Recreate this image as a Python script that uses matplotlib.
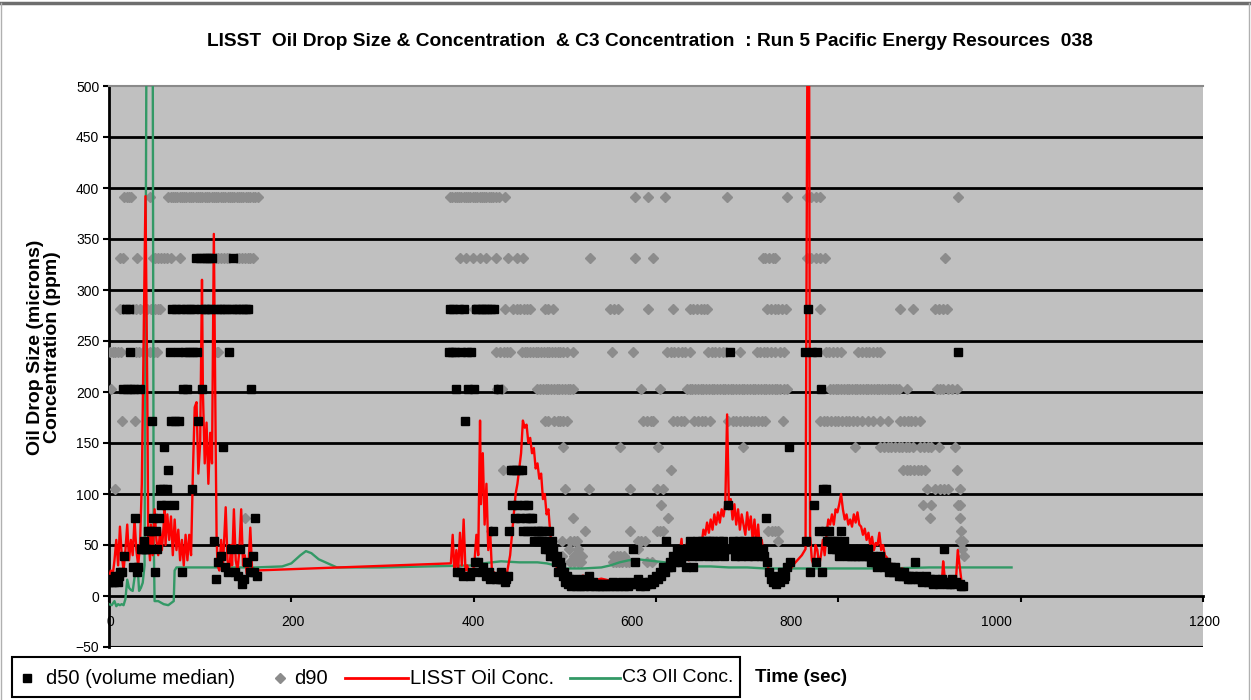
import numpy as np
import matplotlib.pyplot as plt
from matplotlib.patches import Rectangle
from matplotlib.lines import Line2D

plt.rcParams['font.family'] = ['Liberation Sans', 'DejaVu Sans']

# ==========================================================
# data (time in sec, values in microns / ppm)
# ==========================================================

# d50 (volume median) - (time, size)
d50_early = [(0.5, 14), (2, 17), (3.5, 14), (5, 14), (6.5, 20), (8, 17), (9.5, 14), (11, 20), (12.5, 24),
             (14, 24), (15.5, 203), (17, 39), (18.5, 281), (20, 203), (21.5, 281), (23, 239), (24.5, 203),
             (26, 28), (27.5, 203), (29, 76), (30.5, 24), (32, 28), (33.5, 203), (35, 46), (36.5, 46),
             (38, 54), (39.5, 46), (41, 46), (42.5, 64), (44, 46), (45.5, 64), (47, 172), (48.5, 76),
             (50, 24), (51.5, 64), (53, 46), (54.5, 76), (56, 105), (57.5, 89), (59, 105), (60.5, 146),
             (62, 89), (63.5, 105), (65, 124), (66.5, 239), (68, 172), (69.5, 281), (71, 89), (72.5, 172),
             (74, 281), (75.5, 239), (77, 172), (78.5, 281), (80, 24), (81.5, 203), (83, 239), (84.5, 281),
             (86, 203), (87.5, 239), (89, 281), (90.5, 105), (92, 239), (93.5, 281), (95, 331), (96.5, 239),
             (98, 172), (99.5, 331), (101, 281), (102.5, 203), (104, 331), (105.5, 281), (107, 331),
             (108.5, 281), (110, 331), (111.5, 281), (113, 331), (115, 54), (117, 17), (118.5, 281),
             (120, 33), (121.5, 281), (123, 39), (124.5, 146), (126, 281), (127.5, 28), (129, 281),
             (130.5, 24), (132, 239), (133.5, 46), (135, 281), (136.5, 331), (138, 24), (139.5, 281),
             (141, 20), (142.5, 281), (144, 46), (145.5, 12), (147, 281), (148.5, 17), (150, 281),
             (151.5, 33), (153, 281), (154.5, 24), (156, 203), (157.5, 39), (159, 24), (160.5, 76), (162, 20)]

d50_mid = [(373, 239), (374.5, 281), (376, 239), (377.5, 281), (379, 239), (380.5, 203), (382, 24),
           (383.5, 281), (385, 24), (386.5, 239), (388, 20), (389.5, 281), (391, 172), (392.5, 239),
           (394, 203), (395.5, 20), (397, 239), (398.5, 24), (400, 203), (401.5, 33), (403, 281),
           (404.5, 33), (406, 281), (407.5, 24), (409, 281), (410.5, 28), (412, 281), (413.5, 20),
           (415, 281), (416.5, 24), (418, 17), (419.5, 281), (421, 64), (422.5, 281), (424, 17), (425.5, 20),
           (427, 203), (428.5, 17), (430, 24), (431.5, 17), (433, 20), (434.5, 14), (436, 17), (437.5, 20),
           (439, 64), (440.5, 124), (442, 89), (443.5, 124), (445, 76), (446.5, 124), (448, 89),
           (449.5, 124), (451, 76), (452.5, 124), (454, 64), (455.5, 89), (457, 76), (458.5, 64), (460, 89),
           (461.5, 76), (463, 64), (464.5, 76), (466, 54), (467.5, 64), (469, 54), (470.5, 64), (472, 54),
           (473.5, 64), (475, 54), (476.5, 64), (478, 46), (479.5, 54), (481, 46), (482.5, 64), (484, 39),
           (485.5, 54), (487, 46), (488.5, 39), (490, 33), (491.5, 39), (493, 24), (494.5, 33), (496, 28),
           (497.5, 20), (499, 24)]

d50_late = [(500.5, 14), (502, 20), (503.5, 12), (505, 17), (506.5, 10), (508, 14), (509.5, 12), (511, 17),
            (512.5, 10), (514, 12), (515.5, 14), (517, 10), (518.5, 12), (520, 17), (521.5, 10), (523, 14),
            (524.5, 12), (526, 20), (527.5, 10), (529, 12), (531, 14), (533, 10), (535, 12), (537, 10),
            (539, 12), (541, 10), (543, 12), (545, 10), (547, 12), (549, 10), (551, 12), (553, 14), (555, 10),
            (557, 12), (559, 10), (561, 12), (563, 14), (565, 10), (567, 12), (569, 10), (571, 14), (573, 12),
            (575, 46), (576.5, 33), (578, 12), (580, 17), (582, 10), (584, 12), (586, 14), (588, 10),
            (590, 12), (592, 14), (594, 12), (596, 17), (598, 14), (600, 20), (602, 17), (604, 24), (606, 20),
            (608, 28), (610, 24), (611.5, 54), (613, 28), (615, 33), (617, 28), (619, 39), (621, 33),
            (623, 46), (625, 39), (627, 33), (629, 46), (631, 39), (633, 28), (635, 46), (637, 54), (639, 39),
            (641, 28), (643, 46), (645, 54), (647, 39), (649, 46), (651, 54), (653, 46), (655, 54), (657, 39),
            (659, 54), (661, 46), (663, 54), (665, 39), (667, 46), (669, 54), (671, 46), (673, 54), (675, 39),
            (677, 46), (679, 89), (681, 239), (683, 46), (685, 54), (687, 39), (689, 46), (691, 54),
            (693, 39), (695, 46), (697, 54), (699, 46), (701, 39), (703, 46), (705, 54), (707, 39), (709, 46),
            (711, 54), (713, 46), (715, 39), (717, 46), (719, 39), (720.5, 76), (722, 33), (724, 24),
            (726, 17), (728, 14), (730, 20), (732, 12), (734, 17), (736, 14), (738, 24), (740, 17), (742, 20),
            (744, 28), (745.5, 146), (747, 33), (763, 239), (765, 54), (767, 281), (769, 24), (771, 239),
            (773, 89), (775, 33), (777, 239), (779, 64), (780.5, 203), (782, 24), (783.5, 105), (785, 64),
            (786.5, 105), (788, 54), (789.5, 64), (791, 54), (793, 46), (795, 54), (797, 46), (799, 54),
            (801, 39), (802.5, 64), (804, 46), (806, 54), (808, 46), (810, 39), (812, 46), (814, 39),
            (816, 46), (818, 39), (820, 46), (822, 39), (824, 46), (826, 39), (828, 46), (830, 39), (832, 46),
            (834, 39), (836, 33), (838, 39), (840, 33), (842, 28), (844, 33), (846, 39), (848, 33), (850, 28),
            (852, 33), (854, 28), (856, 24), (858, 28), (860, 24), (862, 28), (864, 24), (866, 20), (868, 24),
            (870, 20), (872, 24), (874, 20), (876, 17), (878, 20), (880, 17), (882, 20), (884, 33), (886, 17),
            (888, 20), (890, 17), (892, 14), (894, 17), (896, 20), (898, 14), (900, 17), (902, 14), (904, 12),
            (906, 17), (908, 14), (910, 12), (912, 14), (914, 17), (915.5, 46), (917, 14), (919, 12),
            (921, 14), (923, 12), (925, 17), (927, 12), (929, 14), (931, 239), (933, 12), (935, 10), (937, 10)]

# d90 - times at which a point sits on each LISST size bin
d90_391 = [17, 19.5, 22, 24.5, 45, 65, 67.5, 70, 72.5, 75, 77.5, 80, 82.5, 85, 87.5, 90, 92.5, 95, 97.5, 100,
           102.5, 105, 107.5, 110, 112.5, 115, 117.5, 120, 122.5, 125, 127.5, 130, 132.5, 135, 137.5, 140,
           142.5, 145, 147.5, 150, 152.5, 155, 157.5, 160, 163,
           374, 376.5, 379, 381.5, 384, 386.5, 389, 391.5, 394, 396.5, 399, 401.5, 404, 406.5, 409, 411.5,
           414, 416.5, 419, 421.5, 424, 428, 434,
           577, 591, 610, 678, 744, 766, 770, 775, 780, 931]
d90_331 = [12, 15, 31, 48, 51, 54, 57, 60, 64, 68, 78, 114, 117, 120, 123, 126, 129, 132, 140, 143, 146, 149,
           152, 155, 158,
           385, 392, 399, 407, 414, 425, 438, 447, 454,
           528, 577, 597, 717, 720, 724, 728, 731, 766, 770, 775, 780, 785, 917]
d90_281 = [12, 15, 26, 30, 34, 38, 42, 46, 50, 54, 56,
           400, 434, 443, 447, 451, 455, 459, 462, 478, 482, 487,
           550, 554, 558, 591, 619, 637, 641, 645, 649, 653, 656, 722, 726, 730, 734, 738, 743, 780, 868, 882,
           906, 910, 915, 919]
d90_239 = [1, 4, 7, 10, 13, 30, 33, 37, 41, 45, 49, 53, 118, 120,
           425, 429, 433, 437, 440, 453, 456, 459, 462, 465, 468, 471, 474, 477, 480, 483, 486, 489, 492, 495,
           498, 502,
           509, 552, 575, 612, 616, 620, 624, 628, 632, 637, 657, 661, 665, 669, 673, 677, 692, 711, 714, 718,
           722, 726, 730, 736, 740, 786, 790, 794, 798, 803, 822, 826, 830, 834, 838, 842, 846]
d90_203 = [2, 36,
           426, 431, 470, 473, 476, 479, 482, 485, 488, 491, 494, 497, 500, 503, 506, 509,
           584, 604, 634, 637, 640, 643, 646, 649, 652, 655, 658, 661, 664, 667, 670, 673, 676, 679, 682, 685,
           688, 691, 694, 697, 700, 703, 706, 709, 712, 715, 718, 721, 724, 727, 730, 733, 736, 740, 744,
           791, 794, 797, 800, 803, 806, 809, 812, 815, 818, 821, 824, 827, 830, 833, 836, 839, 842, 845, 848,
           851, 854, 857, 860, 863, 866, 875, 908, 911, 915, 920, 925, 930]
d90_172 = [14, 28,
           478, 482, 488, 492, 495, 498, 502,
           586, 590, 594, 597, 619, 623, 627, 631, 642, 646, 650, 654, 659, 679, 684, 688, 692, 696, 700, 704,
           708, 712, 716, 720, 739, 780, 784, 788, 792, 796, 800, 804, 808, 812, 816, 820, 826, 832, 838, 846,
           854, 868, 872, 876, 880, 884, 890]
d90_146 = [498, 560, 602, 695, 818, 846, 850, 854, 858, 862, 866, 870, 874, 878, 882, 890, 894, 898, 902, 910,
           928]
d90_124 = [432, 617, 871, 875, 879, 883, 887, 891, 895, 930]
d90_105 = [7, 500, 526, 571, 601, 608, 897, 906, 911, 916, 920, 933]
d90_89 = [606, 893, 902, 931, 934]
d90_76 = [149, 509, 613, 900, 933]
d90_64 = [419, 522, 571, 601, 604, 608, 723, 727, 731, 734, 935]
d90_54 = [497, 506, 510, 513, 580, 584, 588, 734, 933, 937]
d90_46 = [505, 514, 580, 936]
d90_39 = [497, 510, 514, 519, 553, 557, 561, 565, 938]
d90_33 = [506, 510, 514, 518, 553, 556, 559, 563, 567, 570, 590, 596]

# LISST oil concentration (ppm)
lisst_early = [(0, 18), (2, 25), (4, 20), (6, 35), (8, 55), (10, 30), (12, 68), (14, 40), (16, 25), (18, 45),
               (20, 70), (22, 35), (24, 55), (26, 40), (28, 75), (30, 45), (32, 30), (34, 50), (36, 110),
               (38, 250), (40, 392), (42, 200), (43, 60), (45, 35), (46, 70), (48, 40), (50, 85), (52, 55),
               (54, 40), (56, 65), (58, 45), (60, 70), (61, 87), (62, 50), (64, 80), (66, 55), (68, 78),
               (70, 40), (72, 75), (74, 45), (76, 65), (78, 35), (80, 55), (82, 30), (84, 60), (86, 35),
               (88, 60), (90, 40), (92, 120), (94, 185), (96, 190), (98, 120), (100, 150), (102, 310),
               (103, 200), (105, 130), (107, 170), (109, 110), (111, 160), (113, 130), (115, 355), (117, 150),
               (118, 60), (119, 30), (121, 25), (123, 55), (125, 30), (128, 87), (130, 35), (132, 25),
               (134, 50), (135, 30), (137, 85), (139, 35), (141, 25), (143, 45), (145, 85), (147, 30),
               (149, 40), (151, 22), (153, 30), (155, 67), (157, 25), (160, 25)]
lisst_mid = [(375, 32), (377, 60), (379, 20), (381, 45), (383, 25), (385, 62), (387, 30), (389, 75), (391, 25),
             (393, 30), (395, 20), (397, 25), (399, 22), (401, 35), (403, 60), (405, 40), (407, 172),
             (408, 90), (410, 140), (412, 70), (414, 110), (416, 45), (418, 65), (420, 25), (424, 22),
             (428, 20), (432, 22), (436, 20), (440, 40), (442, 60), (444, 80), (446, 100), (448, 110),
             (450, 125), (452, 140), (454, 172), (456, 165), (458, 168), (460, 150), (462, 155), (464, 140),
             (466, 145), (468, 125), (470, 130), (472, 115), (474, 120), (476, 95), (478, 100), (480, 80),
             (482, 85), (484, 62), (486, 45), (488, 35), (490, 30)]
lisst_late = [(495, 22), (500, 18), (505, 20), (510, 15), (515, 18), (520, 20), (525, 16), (530, 17), (535, 16),
              (540, 17), (545, 16), (550, 15), (555, 14), (560, 13), (570, 12), (580, 14), (590, 12),
              (600, 15), (610, 22), (620, 30), (626, 40), (628, 56), (630, 30), (634, 52), (636, 35), (640, 38),
              (644, 45), (648, 55), (650, 50), (652, 65), (654, 60), (656, 72), (658, 62), (660, 75), (662, 65),
              (664, 80), (666, 70), (668, 82), (670, 72), (672, 85), (674, 78), (676, 90), (678, 178),
              (680, 85), (682, 95), (684, 75), (686, 90), (688, 70), (690, 85), (692, 65), (694, 80), (696, 70),
              (698, 60), (700, 82), (702, 65), (704, 78), (706, 55), (708, 75), (710, 50), (712, 70), (714, 45),
              (716, 55), (718, 40), (720, 30), (722, 35), (724, 22), (728, 20), (732, 18), (736, 22), (740, 20),
              (744, 25), (748, 27), (752, 32), (756, 36), (760, 40), (764, 46), (766, 520), (768, 520),
              (769, 60), (771, 35), (773, 30), (775, 50), (777, 45), (779, 30), (781, 40), (783, 55), (785, 40),
              (787, 60), (789, 75), (791, 70), (793, 80), (795, 70), (797, 85), (799, 82), (801, 90), (803, 100),
              (805, 85), (807, 75), (809, 80), (811, 70), (813, 75), (815, 68), (817, 80), (819, 72), (821, 82),
              (823, 70), (825, 68), (827, 60), (829, 66), (831, 55), (833, 62), (835, 50), (837, 58), (839, 45),
              (841, 52), (843, 50), (845, 62), (847, 45), (849, 50), (851, 40), (853, 38), (855, 35), (857, 32),
              (859, 30), (862, 28), (866, 25), (870, 27), (875, 22), (880, 20), (885, 20), (890, 18), (895, 20),
              (900, 18), (905, 17), (910, 15), (914, 20), (915, 34), (917, 15), (920, 14), (925, 16), (929, 15),
              (931, 45), (933, 30), (935, 15)]

# C3 oil concentration (ppm)
c3_pts = [(0, -8), (3, -9), (6, -5), (8, -10), (10, -8), (12, -9), (14, -8), (16, -9), (18, -3), (20, 16),
          (22, 8), (24, 6), (26, 5), (28, 18), (30, 31), (32, 20), (33, 5), (35, 8), (37, 13), (39, 30),
          (41, 520), (43, 520), (46, 520), (48, 520), (49, 60), (50, -5), (54, -5), (60, -8), (65, -9),
          (68, -7), (71, -5), (72, 25), (74, 28), (80, 28), (100, 28), (130, 28), (160, 28), (190, 29),
          (200, 32), (210, 40), (216, 44), (222, 42), (230, 36), (240, 32), (250, 28), (270, 28), (300, 28),
          (350, 29), (400, 30), (410, 32), (430, 34), (450, 33), (470, 33), (480, 32), (490, 30), (500, 27),
          (520, 27), (540, 28), (550, 30), (560, 33), (570, 35), (580, 36), (590, 35), (600, 34), (610, 33),
          (620, 30), (640, 29), (660, 29), (680, 28), (700, 28), (720, 27), (760, 27), (800, 27), (850, 27),
          (900, 28), (950, 28), (990, 28)]

y_ticks = [-50, 0, 50, 100, 150, 200, 250, 300, 350, 400, 450, 500]
x_ticks = [0, 200, 400, 600, 800, 1000, 1200]
# the exported chart has its x labels shifted off their ticks; centres as seen (in sec)
x_label_at = [2, 202, 399, 574, 748, 973, 1202]

# ==========================================================
# build arrays
# ==========================================================
d50 = np.array(d50_early + d50_mid + d50_late)

d90_rows = [(391, d90_391), (331, d90_331), (281, d90_281), (239, d90_239), (203, d90_203),
            (172, d90_172), (146, d90_146), (124, d90_124), (105, d90_105), (89, d90_89), (76, d90_76),
            (64, d90_64), (54, d90_54), (46, d90_46), (39, d90_39), (33, d90_33)]
d90_t = np.concatenate([np.array(times, float) for size, times in d90_rows])
d90_v = np.concatenate([np.full(len(times), size, float) for size, times in d90_rows])

lisst = np.array(lisst_early + lisst_mid + lisst_late)
c3 = np.array(c3_pts)

# ==========================================================
# figure
# ==========================================================
W, H = 1251, 700
fig = plt.figure(figsize=(W / 100, H / 100), dpi=100)


def fx(px):
    return px / W


def fy(py):
    return 1 - py / H


ax = fig.add_axes([fx(109), fy(647), (1203 - 109) / W, (647 - 86) / H])
ax.set_facecolor('#c0c0c0')

for y in y_ticks[2:-1]:
    ax.axhline(y, color='black', lw=2, zorder=1)
ax.axhline(-50, color='black', lw=1.5, zorder=1)

ax.plot(c3[:, 0], c3[:, 1], color='#339966', lw=1.7, zorder=3.5)
ax.plot(lisst[:, 0], lisst[:, 1], color='#ff0000', lw=1.7, zorder=4)
ax.plot(d90_t, d90_v, ls='none', marker='D', ms=4.8, color='#8c8c8c', mec='#8c8c8c', zorder=3)
ax.plot(d50[:, 0], d50[:, 1], ls='none', marker='s', ms=6.2, color='black', zorder=5)

ax.set_xlim(0, 1200)
ax.set_ylim(-50, 500)
ax.set_xticks(x_ticks, labels=[''] * len(x_ticks))
ax.set_yticks(y_ticks)
for xl, xt in zip(x_label_at, x_ticks):
    ax.text(xl, -25, str(xt), ha='center', va='center', fontsize=10)

ax.spines['bottom'].set_position(('data', 0))
ax.spines['bottom'].set_linewidth(2)
ax.spines['left'].set_linewidth(2)
ax.spines['right'].set_visible(False)
ax.spines['top'].set_color('#8a8a8a')
ax.spines['top'].set_linewidth(1.5)
ax.tick_params(axis='y', direction='out', length=4, width=1.5, labelsize=10, pad=3)
ax.tick_params(axis='x', direction='out', length=4, width=1.5)

fig.text(fx(650), fy(42), 'LISST  Oil Drop Size & Concentration  & C3 Concentration  : Run 5 Pacific Energy Resources  038',
         ha='center', va='center', fontsize=13.8, fontweight='bold')
fig.text(fx(44), fy(347), 'Oil Drop Size (microns)\nConcentration (ppm)', rotation=90,
         ha='center', va='center', fontsize=14, fontweight='bold', linespacing=1.0, multialignment='center')
fig.text(fx(755), fy(678), 'Time (sec)', ha='left', va='center', fontsize=13.5, fontweight='bold')

# legend drawn by hand, Excel style
fig.add_artist(Rectangle((fx(12), fy(697)), fx(740) - fx(12), fy(657) - fy(697),
                         transform=fig.transFigure, fill=True, facecolor='white', edgecolor='black', lw=1.5))
ly = fy(678)
fig.add_artist(Line2D([fx(27)], [ly], marker='s', ms=6.2, color='black', ls='none', transform=fig.transFigure))
fig.text(fx(46), ly, 'd50 (volume median)', ha='left', va='center', fontsize=14.5)
fig.add_artist(Line2D([fx(280)], [ly], marker='D', ms=4.8, color='#8c8c8c', ls='none', transform=fig.transFigure))
fig.text(fx(294), ly, 'd90', ha='left', va='center', fontsize=14.5)
fig.add_artist(Line2D([fx(345), fx(408)], [ly, ly], color='#ff0000', lw=2, transform=fig.transFigure))
fig.text(fx(410), ly, 'LISST Oil Conc.', ha='left', va='center', fontsize=14.5)
fig.add_artist(Line2D([fx(570), fx(620)], [ly, ly], color='#339966', lw=2, transform=fig.transFigure))
fig.text(fx(622), ly, 'C3 OIl Conc.', ha='left', va='center', fontsize=14)

# thin frame around the whole chart
fig.add_artist(Line2D([0, 1], [fy(3), fy(3)], color='#6e6e6e', lw=2.5, transform=fig.transFigure))
fig.add_artist(Line2D([fx(1), fx(1)], [0, fy(3)], color='#b0b0b0', lw=1, transform=fig.transFigure))
fig.add_artist(Line2D([fx(1249), fx(1249)], [0, fy(3)], color='#b0b0b0', lw=1, transform=fig.transFigure))

fig.savefig('out.png', dpi=100)
